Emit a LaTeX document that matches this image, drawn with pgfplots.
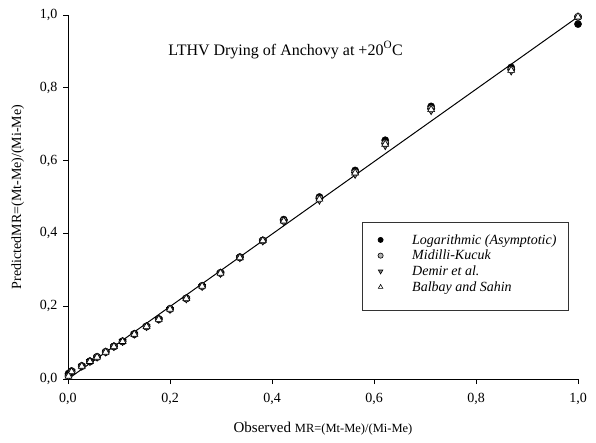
\documentclass[border=0pt]{standalone}
\usepackage{pgfplots}
\pgfplotsset{compat=1.18}
\usepackage{fontspec}
\setmainfont{Liberation Serif}
\pgfplotstableread{
x      log    mid    dem    bal
1.000  0.975  0.995  0.992  0.995
0.869  0.856  0.850  0.846  0.848
0.712  0.749  0.743  0.737  0.740
0.622  0.656  0.648  0.641  0.645
0.563  0.573  0.568  0.562  0.566
0.493  0.500  0.496  0.491  0.494
0.423  0.438  0.435  0.432  0.434
0.382  0.381  0.380  0.379  0.380
0.337  0.335  0.334  0.333  0.333
0.299  0.292  0.291  0.290  0.291
0.263  0.256  0.255  0.254  0.255
0.232  0.222  0.221  0.220  0.221
0.200  0.193  0.192  0.191  0.192
0.178  0.165  0.164  0.164  0.164
0.154  0.145  0.144  0.144  0.144
0.130  0.124  0.123  0.123  0.123
0.107  0.104  0.103  0.103  0.103
0.090  0.090  0.089  0.089  0.089
0.074  0.075  0.074  0.074  0.074
0.057  0.061  0.060  0.060  0.060
0.043  0.049  0.048  0.048  0.048
0.027  0.036  0.035  0.035  0.035
0.007  0.022  0.020  0.020  0.020
0.001  0.015  0.008  0.008  0.008
}\datatable
\begin{document}
\begin{tikzpicture}[x=1pt,y=1pt]
\useasboundingbox (-68,-63) rectangle (528,379);
\begin{axis}[
  at={(0,0)}, anchor=south west,
  scale only axis, width=510pt, height=364pt,
  xmin=0, xmax=1, ymin=0, ymax=1,
  axis x line*=bottom, axis y line*=left,
  axis line style={black, line width=0.8pt},
  xtick={0,0.2,...,1.0}, ytick={0,0.2,...,1.0},
  tick align=outside, major tick length=5pt,
  tick style={black, line width=0.8pt},
  /pgf/number format/.cd, use comma, fixed, fixed zerofill, precision=1, assume math mode=true,
  /pgfplots/.cd,
  ticklabel style={font=\fontsize{14}{16}\selectfont},
  xticklabel style={yshift=-6pt},
  yticklabel style={xshift=-2pt},
  xlabel={\fontsize{15}{17}\selectfont Observed \fontsize{12.5}{15}\selectfont MR=(Mt-Me)/(Mi-Me)},
  xlabel style={yshift=-10pt},
  ylabel={\fontsize{14}{16}\selectfont PredictedMR=(Mt-Me)/(Mi-Me)},
  ylabel style={yshift=9pt},
  clip=false,
  legend style={at={(0.576,0.4313)}, anchor=north west, draw=black!80, line width=0.6pt,
    inner xsep=10pt, inner ysep=10pt, font=\fontsize{14}{16}\selectfont\itshape,
    row sep=0.5pt,
    /tikz/every odd column/.append style={column sep=27pt}},
  legend image post style={mark size=2.6pt},
  legend cell align=left,
]
\addplot[black, line width=1pt, forget plot] coordinates {(0,0) (1,0.995)};
\addplot[only marks, mark=*, mark size=3.6pt, mark options={fill=black, draw=black}] table[x=x,y=log] {\datatable};
\addlegendentry{Logarithmic (Asymptotic)}
\addplot[only marks, mark=*, mark size=3.6pt, mark options={fill=black!30, draw=black, line width=0.6pt}] table[x=x,y=mid] {\datatable};
\addlegendentry{Midilli-Kucuk}
\addplot[only marks, mark=triangle*, mark size=4pt, mark options={rotate=180, fill=black!50, draw=black, line width=0.6pt}] table[x=x,y=dem] {\datatable};
\addlegendentry{Demir et al.}
\addplot[only marks, mark=triangle*, mark size=4pt, mark options={fill=white, draw=black, line width=0.6pt}] table[x=x,y=bal] {\datatable};
\addlegendentry{Balbay and Sahin}
\addlegendimage{empty legend}
\addlegendentry{}
\node[anchor=west, font=\fontsize{16}{18}\selectfont] at (axis cs:0.19,0.904) {LTHV Drying of Anchovy at +20\textsuperscript{O}C};
\end{axis}
\end{tikzpicture}
\end{document}
